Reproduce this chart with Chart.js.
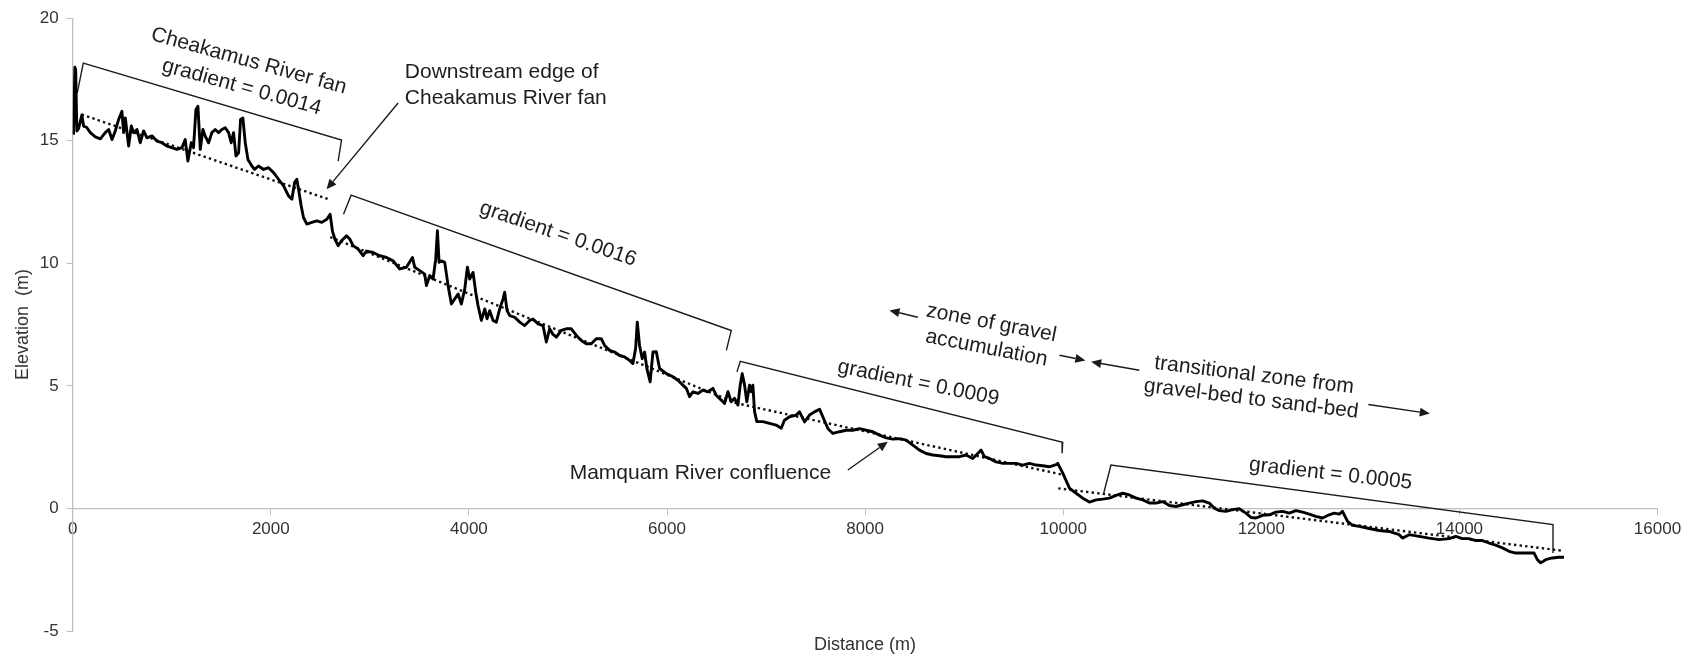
<!DOCTYPE html>
<html>
<head>
<meta charset="utf-8">
<script src="https://cdn.jsdelivr.net/npm/chart.js@4.4.1/dist/chart.umd.min.js"></script>
<style>
  html, body { margin: 0; padding: 0; background: #fff; }
  #wrap { width: 1700px; height: 660px; position: relative; }
</style>
</head>
<body>
<div id="wrap"><canvas id="profile" width="1700" height="660"></canvas></div>
<script>
// Long profile of the river bed: distance downstream (m) and bed elevation (m)
const distance = [
  8, 22, 30, 42, 60, 92, 110, 140, 178, 228, 279, 329, 363, 397, 430, 464, 497, 514, 531, 565,
  592, 615, 649, 682, 716, 750, 800, 850, 901, 951, 1002, 1052, 1103, 1136, 1163, 1197, 1220, 1244, 1264, 1288,
  1315, 1338, 1372, 1405, 1439, 1473, 1506, 1540, 1574, 1600, 1624, 1648, 1675, 1695, 1718, 1742, 1769, 1809, 1836, 1876,
  1927, 1977, 2028, 2078, 2129, 2179, 2213, 2240, 2263, 2280, 2307, 2330, 2364, 2414, 2465, 2515, 2566, 2599, 2623, 2647,
  2680, 2714, 2764, 2798, 2831, 2882, 2932, 2966, 3033, 3100, 3168, 3235, 3302, 3369, 3430, 3453, 3504, 3554, 3571, 3605,
  3638, 3665, 3682, 3699, 3722, 3756, 3790, 3823, 3857, 3891, 3924, 3958, 3985, 4008, 4042, 4069, 4092, 4126, 4160, 4183,
  4210, 4244, 4277, 4311, 4345, 4361, 4385, 4412, 4462, 4513, 4563, 4614, 4647, 4698, 4748, 4782, 4815, 4849, 4883, 4933,
  4984, 5034, 5085, 5135, 5185, 5236, 5286, 5337, 5370, 5421, 5471, 5522, 5572, 5622, 5656, 5683, 5700, 5723, 5750, 5774,
  5797, 5830, 5858, 5892, 5925, 5993, 6060, 6110, 6161, 6195, 6228, 6262, 6312, 6363, 6413, 6463, 6497, 6548, 6581, 6615,
  6648, 6682, 6716, 6739, 6759, 6783, 6806, 6833, 6850, 6867, 6884, 6907, 6968, 7035, 7102, 7153, 7186, 7237, 7304, 7338,
  7389, 7439, 7489, 7540, 7573, 7624, 7674, 7742, 7809, 7876, 7943, 8011, 8078, 8145, 8213, 8280, 8347, 8414, 8482, 8549,
  8616, 8683, 8751, 8818, 8885, 8952, 9020, 9087, 9137, 9171, 9205, 9255, 9322, 9390, 9457, 9524, 9591, 9659, 9726, 9793,
  9860, 9928, 9945, 9996, 10063, 10130, 10197, 10265, 10332, 10399, 10466, 10534, 10601, 10668, 10735, 10803, 10870, 10937, 11004, 11072,
  11139, 11206, 11273, 11341, 11408, 11475, 11526, 11576, 11643, 11711, 11778, 11845, 11896, 11946, 12013, 12081, 12148, 12215, 12282, 12350,
  12417, 12484, 12551, 12619, 12686, 12736, 12787, 12820, 12871, 12921, 12989, 13089, 13190, 13291, 13392, 13425, 13493, 13593, 13694, 13795,
  13896, 13963, 14030, 14098, 14165, 14232, 14300, 14367, 14434, 14501, 14569, 14636, 14703, 14754, 14787, 14821, 14871, 14939, 15006, 15056
];
const elevation = [
  15.25, 18.0, 17.9, 15.4, 15.5, 16.05, 15.6, 15.55, 15.33, 15.16, 15.08, 15.33, 15.46, 15.05, 15.4, 15.87, 16.2, 15.33, 15.93, 14.78,
  15.6, 15.33, 15.46, 14.92, 15.4, 15.12, 15.2, 14.99, 14.92, 14.78, 14.72, 14.65, 14.72, 15.05, 14.17, 14.92, 14.72, 16.27, 16.41, 14.65,
  15.46, 15.19, 14.92, 15.33, 15.46, 15.33, 15.46, 15.53, 15.33, 14.92, 15.33, 14.38, 14.51, 15.87, 15.93, 14.92, 14.24, 13.97, 13.83, 13.97,
  13.83, 13.9, 13.7, 13.43, 13.16, 12.75, 12.62, 13.29, 13.43, 13.02, 12.34, 11.87, 11.6, 11.67, 11.73, 11.67, 11.8, 12.0, 11.3, 10.99,
  10.72, 10.92, 11.12, 10.99, 10.72, 10.58, 10.31, 10.5, 10.44, 10.31, 10.24, 10.1, 9.77, 9.84, 10.24, 9.84, 9.7, 9.56, 9.09, 9.5,
  9.36, 10.17, 11.33, 10.04, 10.1, 10.04, 9.09, 8.34, 8.55, 8.75, 8.34, 8.95, 9.84, 9.36, 9.63, 8.82, 8.28, 7.67, 8.14, 7.74,
  8.07, 7.67, 7.6, 8.14, 8.55, 8.82, 8.07, 7.87, 7.8, 7.6, 7.46, 7.67, 7.73, 7.53, 7.46, 6.79, 7.33, 7.1, 6.99, 7.26,
  7.33, 7.33, 7.06, 6.85, 6.72, 6.72, 6.92, 6.92, 6.65, 6.45, 6.38, 6.24, 6.18, 6.04, 5.91, 6.52, 7.6, 6.65, 6.11, 6.38,
  5.7, 5.16, 6.38, 6.39, 5.71, 5.5, 5.37, 5.23, 5.03, 4.9, 4.56, 4.76, 4.69, 4.83, 4.76, 4.9, 4.62, 4.42, 4.28, 4.76,
  4.35, 4.49, 4.22, 5.03, 5.5, 5.03, 4.35, 5.03, 4.76, 5.03, 3.95, 3.54, 3.54, 3.47, 3.4, 3.27, 3.6, 3.74, 3.81, 3.94,
  3.53, 3.81, 3.94, 4.05, 3.74, 3.26, 3.06, 3.13, 3.19, 3.19, 3.26, 3.19, 3.13, 2.99, 2.88, 2.83, 2.85, 2.79, 2.58, 2.38,
  2.24, 2.18, 2.15, 2.11, 2.11, 2.11, 2.18, 2.04, 2.24, 2.38, 2.11, 2.04, 1.9, 1.84, 1.84, 1.84, 1.77, 1.84, 1.77, 1.74,
  1.7, 1.79, 1.84, 1.44, 0.83, 0.62, 0.42, 0.26, 0.35, 0.38, 0.42, 0.53, 0.62, 0.55, 0.42, 0.35, 0.22, 0.22, 0.28, 0.12,
  0.08, 0.15, 0.22, 0.28, 0.31, 0.22, 0.01, -0.09, -0.12, -0.05, -0.01, -0.19, -0.37, -0.39, -0.28, -0.26, -0.15, -0.12, -0.19, -0.09,
  -0.15, -0.23, -0.32, -0.39, -0.26, -0.19, -0.23, -0.12, -0.53, -0.69, -0.73, -0.82, -0.9, -0.94, -1.07, -1.21, -1.07, -1.14, -1.21, -1.27,
  -1.23, -1.14, -1.23, -1.23, -1.31, -1.31, -1.41, -1.5, -1.61, -1.75, -1.82, -1.82, -1.82, -1.82, -2.09, -2.22, -2.09, -2.02, -1.99, -1.99
];

// Fitted reach gradients: start and end of each dotted trend line [distance, elevation]
const trendStart = [[91, 16.07], [2600, 11.07], [6750, 4.25], [9950, 0.82]];
const trendEnd   = [[2577, 12.62], [6700, 4.30], [10000, 1.37], [15050, -1.73]];
const gradientLabels = ['gradient = 0.0014', 'gradient = 0.0016', 'gradient = 0.0009', 'gradient = 0.0005'];

// Reach brackets drawn above the profile [distance, elevation]
const bracketPoints = [
  [[46, 16.95], [107, 18.17], [2714, 15.03], [2680, 14.17]],
  [[2734, 12.0], [2811, 12.78], [6649, 7.26], [6599, 6.45]],
  [[6706, 5.57], [6740, 6.0], [9995, 2.7], [9989, 2.25]],
  [[10409, 0.62], [10482, 1.77], [14945, -0.66], [14945, -1.82]]
];

// Axis ticks
const xTicks = [0, 2000, 4000, 6000, 8000, 10000, 12000, 14000, 16000];
const yTicks = [-5, 0, 5, 10, 15, 20];

// Text notes, anchored in data units
const notes = [
  { lines: ['Cheakamus River fan', gradientLabels[0]], at: [1742, 17.72], rot: 15.5, lh: 27 },
  { lines: [gradientLabels[1]], at: [4900, 11.2], rot: 19 },
  { lines: [gradientLabels[2]], at: [8538, 5.12], rot: 11.5 },
  { lines: [gradientLabels[3]], at: [12699, 1.41], rot: 6.5 },
  { lines: ['zone of gravel', 'accumulation'], at: [9250, 7.05], rot: 11, lh: 25.6 },
  { lines: ['transitional zone from', 'gravel-bed to sand-bed'], at: [11913, 4.95], rot: 7, lh: 24 },
  { lines: ['Downstream edge of', 'Cheakamus River fan'], at: [3353, 17.26], rot: 0, lh: 25.8, align: 'left' },
  { lines: ['Mamquam River confluence'], at: [6337, 1.44], rot: 0 }
];

// Pointer arrows: [tail, tip] in data units
const arrows = [
  [[3285, 16.54], [2563, 13.02]],
  [[7826, 1.57], [8229, 2.72]],
  [[8532, 7.80], [8246, 8.08]],
  [[9962, 6.25], [10224, 6.04]],
  [[10769, 5.64], [10282, 5.98]],
  [[13081, 4.24], [13701, 3.87]]
];

const FONT = "'Liberation Sans', Arial, Helvetica, sans-serif";
Chart.defaults.font.family = FONT;

const toXY = pts => pts.map(p => ({ x: p[0], y: p[1] }));

const datasets = [
  {
    data: distance.map((d, i) => ({ x: d, y: elevation[i] })),
    borderColor: '#000', borderWidth: 2.9, pointRadius: 0, tension: 0,
    borderJoinStyle: 'round', fill: false
  }
];
trendStart.forEach((s, i) => datasets.push({
  data: toXY([s, trendEnd[i]]),
  borderColor: '#111', borderWidth: 2.4, borderDash: [2.4, 3.2], pointRadius: 0, fill: false
}));
bracketPoints.forEach(b => datasets.push({
  data: toXY(b),
  borderColor: '#1a1a1a', borderWidth: 1.4, pointRadius: 0, fill: false, tension: 0
}));

const annotate = {
  id: 'annotate',
  afterDatasetsDraw(chart) {
    const { ctx, scales: { x, y } } = chart;
    ctx.save();
    ctx.fillStyle = '#1e1e1e';
    ctx.font = '21px ' + FONT;
    ctx.textBaseline = 'middle';
    notes.forEach(n => {
      const px = x.getPixelForValue(n.at[0]);
      const py = y.getPixelForValue(n.at[1]);
      const lh = n.lh || 26;
      ctx.save();
      ctx.translate(px, py);
      ctx.rotate(n.rot * Math.PI / 180);
      ctx.textAlign = n.align || 'center';
      n.lines.forEach((t, i) => ctx.fillText(t, 0, (i - (n.lines.length - 1) / 2) * lh));
      ctx.restore();
    });

    ctx.strokeStyle = '#1a1a1a';
    ctx.fillStyle = '#1a1a1a';
    ctx.lineWidth = 1.4;
    arrows.forEach(a => {
      const x0 = x.getPixelForValue(a[0][0]), y0 = y.getPixelForValue(a[0][1]);
      const x1 = x.getPixelForValue(a[1][0]), y1 = y.getPixelForValue(a[1][1]);
      const ang = Math.atan2(y1 - y0, x1 - x0);
      const head = 10, half = 4.5;
      const bx = x1 - head * Math.cos(ang), by = y1 - head * Math.sin(ang);
      ctx.beginPath();
      ctx.moveTo(x0, y0);
      ctx.lineTo(bx, by);
      ctx.stroke();
      ctx.beginPath();
      ctx.moveTo(x1, y1);
      ctx.lineTo(bx + half * Math.sin(ang), by - half * Math.cos(ang));
      ctx.lineTo(bx - half * Math.sin(ang), by + half * Math.cos(ang));
      ctx.closePath();
      ctx.fill();
    });

    // horizontal axis title, placed under the plot
    ctx.fillStyle = '#333';
    ctx.font = '18px ' + FONT;
    ctx.textAlign = 'center';
    ctx.textBaseline = 'middle';
    const ca = chart.chartArea;
    ctx.fillText('Distance (m)', (ca.left + ca.right) / 2, 645);
    ctx.restore();
  }
};

new Chart(document.getElementById('profile'), {
  type: 'line',
  data: { datasets },
  options: {
    responsive: false,
    animation: false,
    devicePixelRatio: 1,
    layout: { padding: { left: 0, top: 15, right: 42.5, bottom: 29 } },
    plugins: { legend: { display: false }, tooltip: { enabled: false } },
    scales: {
      x: {
        type: 'linear', min: 0, max: 16000,
        position: { y: 0 },
        afterBuildTicks: s => { s.ticks = xTicks.map(v => ({ value: v })); },
        ticks: { color: '#333', font: { size: 17 }, padding: 5, maxRotation: 0, autoSkip: false, callback: v => String(v) },
        grid: { drawOnChartArea: false, drawTicks: true, tickLength: 6, color: '#bfbfbf', lineWidth: 1 },
        border: { color: '#bfbfbf', width: 1.3 }
      },
      y: {
        type: 'linear', min: -5, max: 20,
        afterBuildTicks: s => { s.ticks = yTicks.map(v => ({ value: v })); },
        afterFit: s => { s.width = 72.7; },
        ticks: { color: '#333', font: { size: 17 }, padding: 8, callback: v => String(v) },
        grid: { drawOnChartArea: false, drawTicks: true, tickLength: 6, color: '#bfbfbf', lineWidth: 1 },
        border: { color: '#bfbfbf', width: 1.3 },
        title: { display: true, text: 'Elevation  (m)', color: '#333', font: { size: 18 }, padding: { top: 12.5, bottom: 0 } }
      }
    }
  },
  plugins: [annotate]
});
</script>
</body>
</html>
